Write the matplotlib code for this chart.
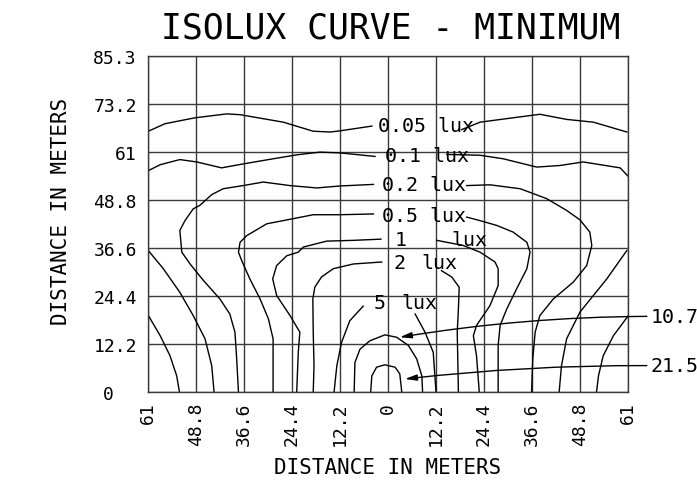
import numpy as np
import matplotlib.pyplot as plt
from matplotlib.transforms import ScaledTranslation

plt.rcParams['font.family'] = ['DejaVu Sans Mono']

# axis ticks (meters)
x_ticks = [-61, -48.8, -36.6, -24.4, -12.2, 0, 12.2, 24.4, 36.6, 48.8, 61]
x_labels = ['61', '48.8', '36.6', '24.4', '12.2', '0', '12.2', '24.4', '36.6', '48.8', '61']
y_ticks = [0, 12.2, 24.4, 36.6, 48.8, 61, 73.2, 85.3]
y_labels = ['0', '12.2', '24.4', '36.6', '48.8', '61', '73.2', '85.3']

# isolux lines (x, y in meters)
c005_lx = [-60.9, -56.7, -49.1, -41.0, -37.6, -26.6, -19.0, -14.7, -12.2, -4.1]
c005_ly = [66.2, 68.1, 69.6, 70.6, 70.4, 68.5, 66.2, 66.0, 66.3, 67.5]
c005_rx = [18.7, 23.4, 30.2, 38.6, 45.4, 52.2, 60.7]
c005_ry = [66.6, 68.5, 69.4, 70.5, 69.2, 68.5, 66.0]

c01_lx = [-60.9, -57.9, -52.9, -48.6, -42.3, -36.8, -29.2, -23.2, -17.3, -12.2, -3.3]
c01_ly = [56.2, 57.7, 59.0, 58.4, 56.9, 57.9, 59.2, 60.2, 60.9, 60.7, 59.8]
c01_rx = [14.9, 23.4, 29.3, 37.8, 43.7, 49.6, 59.0, 61.1]
c01_ry = [60.3, 60.1, 59.2, 57.1, 57.5, 58.4, 56.9, 54.7]

c02_lx = [-3.7, -12.2, -18.1, -24.9, -31.7, -36.8, -41.9, -44.8, -47.8, -49.5,
          -51.6, -52.9, -52.4, -50.3, -46.9, -42.7, -40.2, -38.9, -38.5, -38.0]
c02_ly = [52.7, 52.3, 51.8, 52.4, 53.3, 52.4, 51.6, 50.1, 47.4, 46.5,
          43.5, 41.0, 35.5, 32.5, 28.3, 23.6, 19.8, 15.2, 9.2, 0]
c02_rx = [20.0, 25.9, 33.6, 40.3, 45.4, 48.8, 51.3, 51.8, 50.5, 47.1, 42.0, 38.6, 37.4, 36.8, 36.5]
c02_ry = [52.4, 52.6, 51.6, 49.1, 46.1, 43.7, 40.6, 37.2, 32.1, 27.9, 23.6, 19.4, 15.2, 8.4, 0]

c05_lx = [-3.7, -12.2, -19.0, -24.1, -30.8, -35.9, -37.6, -38.0, -37.2, -35.1, -32.5, -30.4, -29.2, -29.2, -29.2]
c05_ly = [45.2, 45.0, 45.0, 44.0, 42.7, 39.7, 38.0, 35.5, 33.4, 28.7, 23.6, 18.6, 13.5, 6.7, 0]
c05_rx = [20.0, 23.4, 27.6, 31.8, 35.3, 36.1, 35.3, 32.7, 30.2, 28.5, 28.0, 28.0]
c05_ry = [44.4, 43.5, 42.3, 40.6, 38.0, 35.5, 31.3, 26.2, 21.1, 16.9, 11.8, 0]

c1_lx = [-1.8, -8.8, -15.6, -21.5, -22.8, -25.7, -28.3, -29.3, -28.3, -24.9, -22.4, -22.8, -23.2]
c1_ly = [38.8, 38.5, 38.3, 36.8, 35.5, 34.6, 32.1, 28.7, 24.5, 19.4, 15.2, 10.1, 0]
c1_rx = [12.4, 19.1, 23.4, 27.2, 28.0, 28.0, 25.9, 22.5, 21.7, 22.5, 23.2]
c1_ry = [38.5, 37.2, 35.5, 33.0, 31.3, 27.0, 21.9, 16.9, 14.3, 9.2, 0]

c2_lx = [-1.6, -8.8, -13.9, -16.9, -18.6, -19.1, -19.0, -18.8, -19.0]
c2_ly = [33.0, 32.5, 31.3, 29.2, 26.6, 23.6, 15.2, 6.7, 0]
c2_rx = [13.6, 16.2, 18.1, 17.9, 17.6, 17.9]
c2_ry = [30.8, 29.2, 26.6, 21.1, 15.2, 0]

c5_lx = [-6.3, -9.7, -11.8, -13.0, -13.7]
c5_ly = [21.8, 18.1, 12.6, 6.7, 0]
c5_rx = [6.9, 9.4, 11.5, 12.2]
c5_ry = [19.8, 15.2, 10.1, 0]

c107_x = [-8.6, -8.4, -7.1, -4.6, -0.8, 2.2, 5.2, 7.3, 8.6, 8.8]
c107_y = [0, 7.5, 10.9, 13.0, 14.5, 13.9, 11.8, 8.4, 4.1, 0]
c215_x = [-4.4, -4.1, -2.9, -0.8, 1.8, 3.0, 3.5]
c215_y = [0, 4.1, 6.3, 6.9, 6.3, 4.6, 0]

# outer pieces entering from the sides
oa_lx = [-60.9, -57.9, -55.4, -53.7, -53.0]
oa_ly = [19.4, 14.3, 9.2, 4.1, 0]
ob_lx = [-60.9, -57.1, -52.9, -49.5, -46.5, -44.8, -44.2]
ob_ly = [35.9, 31.3, 25.3, 19.4, 13.5, 6.7, 0]
oa_rx = [61.1, 57.3, 54.7, 53.5, 53.0]
oa_ry = [19.4, 14.3, 9.2, 4.1, 0]
ob_rx = [60.7, 55.6, 48.8, 45.4, 44.1, 43.5]
ob_ry = [35.9, 28.7, 20.3, 13.5, 6.7, 0]

curves = [(c005_lx, c005_ly), (c005_rx, c005_ry), (c01_lx, c01_ly), (c01_rx, c01_ry),
          (c02_lx, c02_ly), (c02_rx, c02_ry), (c05_lx, c05_ly), (c05_rx, c05_ry),
          (c1_lx, c1_ly), (c1_rx, c1_ry), (c2_lx, c2_ly), (c2_rx, c2_ry),
          (c5_lx, c5_ly), (c5_rx, c5_ry), (c107_x, c107_y), (c215_x, c215_y),
          (oa_lx, oa_ly), (ob_lx, ob_ly), (oa_rx, oa_ry), (ob_rx, ob_ry)]

# in-plot labels
lab_text = ['0.05 lux', '0.1 lux', '0.2 lux', '0.5 lux', '1', 'lux', '2', 'lux', '5', 'lux']
lab_x = [-2.5, -0.8, -1.4, -1.4, 1.8, 16.2, 1.4, 8.6, -3.7, 3.5]
lab_y = [67.6, 60.0, 52.6, 44.8, 38.7, 38.7, 32.9, 32.9, 22.6, 22.6]

# callouts on the right
arr_text = ['10.7', '21.5']
arr_from_x = [65.8, 65.8]
arr_from_y = [19.2, 6.7]
arr_to_x = [3.0, 4.3]
arr_to_y = [13.9, 3.3]
arr_rad = [0.04, 0.03]

fig = plt.figure(figsize=(6.97, 4.85), dpi=100)
ax = fig.add_axes([0.2123, 0.1897, 0.6887, 0.6928])

for cx, cy in curves:
    ax.plot(cx, cy, color='black', lw=1.0, clip_on=True)

for t, x, y in zip(lab_text, lab_x, lab_y):
    ax.text(x, y, t, ha='left', va='center', fontsize=14.4, color='black')

for t, x0, y0, x1, y1, r in zip(arr_text, arr_from_x, arr_from_y, arr_to_x, arr_to_y, arr_rad):
    ax.annotate('', xy=(x1, y1), xytext=(x0, y0), annotation_clip=False,
                arrowprops=dict(arrowstyle='-|>,head_length=0.7,head_width=0.18',
                                color='black', lw=1.0, shrinkA=0, shrinkB=0,
                                connectionstyle='arc3,rad=%s' % r))
    ax.text(x0 + 0.9, y0, t, ha='left', va='center', fontsize=14.4, clip_on=False)

ax.set_xlim(-61, 61)
ax.set_ylim(0, 85.3)
ax.set_xticks(x_ticks)
ax.set_xticklabels(x_labels, rotation=90, fontsize=13)
ax.set_yticks(y_ticks)
ax.set_yticklabels(y_labels, fontsize=13)
ax.tick_params(length=0, pad=7)
ax.tick_params(axis='y', pad=8)
ax.grid(True, color='#3a3a3a', lw=1.0)
for s in ax.spines.values():
    s.set_color('#3a3a3a')
    s.set_linewidth(1.0)

# the zero on the y axis sits further left in the drawing
lbl0 = ax.get_yticklabels()[0]
lbl0.set_transform(lbl0.get_transform() + ScaledTranslation(-0.23, 0, fig.dpi_scale_trans))

fig.text(0.561, 0.942, 'ISOLUX CURVE - MINIMUM', ha='center', va='center', fontsize=25)
fig.text(0.5567, 0.035, 'DISTANCE IN METERS', ha='center', va='center', fontsize=15)
fig.text(0.0875, 0.564, 'DISTANCE IN METERS', ha='center', va='center', rotation=90, fontsize=15)

fig.savefig('out.png', dpi=100)
